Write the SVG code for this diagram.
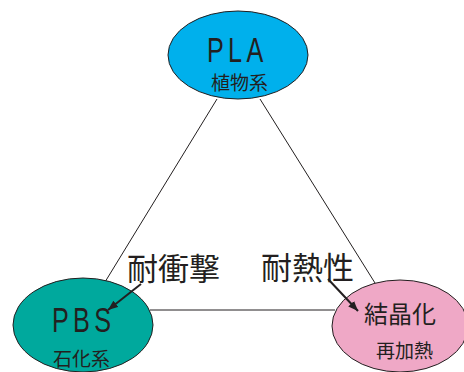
<svg xmlns="http://www.w3.org/2000/svg" width="464" height="372" viewBox="0 0 464 372">
<style>
.edge{stroke:#231f20;stroke-width:1;fill:none}
.arrow{stroke:#231f20;stroke-width:2;fill:none}
.node{stroke:#231f20;stroke-width:1}
.cjk{font-family:"Noto Sans CJK JP","Noto Sans CJK SC",sans-serif;fill:#231f20}
.lat{font-family:"Liberation Sans",Arial,sans-serif;font-size:35px;fill:#231f20;letter-spacing:6px}
</style>
<defs>
<marker id="ah" viewBox="0 0 10 8" refX="10" refY="4" markerWidth="5" markerHeight="4" orient="auto" markerUnits="strokeWidth">
<path d="M0,0 L10,4 L0,8 Z" fill="#231f20"/>
</marker>
</defs>
<rect width="464" height="372" fill="#ffffff"/>
<g id="connectors">
<line class="edge" x1="217" y1="99" x2="105" y2="282"/>
<line class="edge" x1="260" y1="99" x2="375" y2="283"/>
<line class="edge" x1="150" y1="310" x2="335" y2="310"/>
</g>
<g id="pla">
<ellipse class="node" cx="238" cy="55" rx="70" ry="44" fill="#00b0ec"/>
<text class="lat" transform="translate(207,62) scale(0.72,1)">PLA</text>
<text class="cjk" x="211" y="90" font-size="19">植物系</text>
</g>
<g id="pbs">
<ellipse class="node" cx="83" cy="325" rx="70" ry="47" fill="#00a99d"/>
<text class="lat" transform="translate(52,332) scale(0.72,1)">PBS</text>
<text class="cjk" x="53" y="366" font-size="19">石化系</text>
</g>
<g id="crystal">
<ellipse class="node" cx="400" cy="326" rx="68" ry="46" fill="#efa8c6"/>
<text class="cjk" x="364" y="323" font-size="24">結晶化</text>
<text class="cjk" x="376" y="358" font-size="19">再加熱</text>
</g>
<g id="impact">
<text class="cjk" x="127" y="280" font-size="31">耐衝撃</text>
</g>
<g id="heat">
<text class="cjk" x="261" y="279" font-size="31">耐熱性</text>
</g>
<g id="arrows">
<line class="arrow" x1="141" y1="284" x2="108" y2="310" marker-end="url(#ah)"/>
<line class="arrow" x1="328" y1="279" x2="358" y2="311" marker-end="url(#ah)"/>
</g>
</svg>
